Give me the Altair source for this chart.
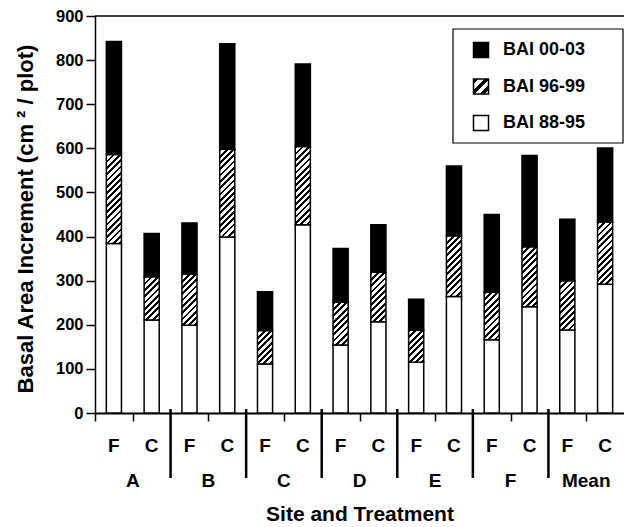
import json
import altair as alt
import pandas as pd

# ---------------- data ----------------
sites = ["A", "B", "C", "D", "E", "F", "Mean"]
treatments = ["F", "C"]
periods = ["BAI 00-03", "BAI 96-99", "BAI 88-95"]
bai_88_95 = [384, 211, 199, 399, 111, 427, 154, 207, 115, 264, 166, 241, 188, 292]
bai_96_99 = [202, 98, 116, 199, 76, 177, 97, 112, 73, 138, 108, 136, 112, 141]
bai_00_03 = [256, 98, 116, 239, 88, 187, 122, 108, 70, 158, 176, 207, 139, 168]
y_ticks = list(range(0, 1000, 100))

# ---------------- layout / style ----------------
FONT = "Liberation Sans"
W, H = 529, 397
YMAX = 900
NB = len(sites) * len(treatments)
BAND = 0.4
bar_px = W / NB * BAND
x_ticks = [0] + [2 * g + 1 for g in range(len(sites))]

rows = []
for i in range(NB):
    base = 0
    for period, vals in (("BAI 88-95", bai_88_95), ("BAI 96-99", bai_96_99), ("BAI 00-03", bai_00_03)):
        rows.append({"slot": i, "period": period, "low": base, "high": base + vals[i],
                     "key": f"{i}|{period}"})
        base += vals[i]
bars = pd.DataFrame(rows)


def hatch(w, h, period, black=0.45):
    """Linear gradient with hard stops that draws '/' stripes at 45 degrees."""
    L = w + h
    r = w / h
    k = (r + 1) / (r * r + 1)
    stops = []
    j = 0
    while j * period < L:
        a = j * period
        m = a + black * period
        e = a + period
        for s, c in ((a, "black"), (m, "black"), (m, "white"), (e, "white")):
            stops.append({"offset": round(min(s / L, 1.0), 5), "color": c})
        j += 1
    return {"gradient": "linear", "x1": 0, "y1": 0, "x2": round(k * r, 5), "y2": round(k, 5),
            "stops": stops}


conds = []
for r in bars.itertuples():
    if r.period == "BAI 96-99":
        conds.append({"test": f"datum.key === '{r.key}'",
                      "value": hatch(bar_px, (r.high - r.low) * H / YMAX, 6.3)})

legend_hatch_expr = json.dumps(hatch(15, 15, 10.5, 0.5)).replace('"', "'")

x_axis = alt.Axis(values=x_ticks, labels=False, tickSize=8, tickWidth=1.5,
                  tickColor="black", domainColor="black", domainWidth=2, grid=False,
                  title="Site and Treatment", titleFont=FONT, titleFontSize=21,
                  titleFontWeight="bold", titleColor="black", titlePadding=82)
x_scale = alt.Scale(domain=[0, NB], nice=False)

# legend frame (decoration behind the legend)
legend_box = alt.Chart(pd.DataFrame({"d": [0]})).mark_rect(
    fill="white", stroke="black", strokeWidth=1.2
).encode(x=alt.value(358), x2=alt.value(528), y=alt.value(13), y2=alt.value(127))

bar_layer = alt.Chart(bars).transform_calculate(
    x0=f"datum.slot + {(1 - BAND) / 2}",
    x1=f"datum.slot + {1 - (1 - BAND) / 2}",
).mark_bar(stroke="black", strokeWidth=1.5).encode(
    x=alt.X("x0:Q", scale=x_scale, axis=x_axis),
    x2="x1:Q",
    y=alt.Y("low:Q", scale=alt.Scale(domain=[0, YMAX], nice=False),
            axis=alt.Axis(values=y_ticks, grid=False, title="Basal Area Increment (cm ² / plot)",
                          titleFont=FONT, titleFontSize=22, titleFontWeight="bold",
                          titleColor="black", titleX=-63, titleY=202.5,
                          titleBaseline="alphabetic",
                          labelFont=FONT, labelFontSize=16.5, labelFontWeight="bold",
                          labelColor="black", labelPadding=3, tickColor="black",
                          tickSize=9, tickWidth=1.5, domainColor="black", domainWidth=1.5)),
    y2="high:Q",
    fill=alt.Fill(
        "period:N",
        scale=alt.Scale(domain=periods,
                        range=["black", alt.ExprRef(expr=legend_hatch_expr), "white"]),
        condition=conds,
        legend=alt.Legend(
            title=None, orient="none", legendX=377, legendY=25, padding=0,
            symbolType="square", symbolSize=225,
            symbolStrokeColor="black", symbolStrokeWidth=1.5, symbolOffset=0,
            labelOffset=13, labelFont=FONT, labelFontSize=18, labelFontWeight="bold",
            labelColor="black", rowPadding=14.5,
        ),
    ),
)

top_line = alt.Chart(pd.DataFrame({"d": [0]})).mark_rule(color="black", strokeWidth=1.5).encode(
    y=alt.value(0), x=alt.value(0), x2=alt.value(W)
)

sep_df = pd.DataFrame({"x": [2 * g for g in range(1, len(sites))]})
separators = alt.Chart(sep_df).mark_rule(color="black", strokeWidth=2.5).encode(
    x=alt.X("x:Q", scale=x_scale, axis=x_axis), y=alt.value(393), y2=alt.value(462)
)

treat_df = pd.DataFrame({"x": [i + 0.5 for i in range(NB)],
                         "t": [treatments[i % 2] for i in range(NB)]})
treat_text = alt.Chart(treat_df).mark_text(
    font=FONT, fontSize=19, fontWeight="bold", color="black", baseline="middle", align="center"
).encode(x=alt.X("x:Q", scale=x_scale, axis=x_axis), y=alt.value(430), text="t:N")

site_df = pd.DataFrame({"x": [2 * g + 1 for g in range(len(sites))], "s": sites})
site_text = alt.Chart(site_df).mark_text(
    font=FONT, fontSize=19, fontWeight="bold", color="black", baseline="middle", align="center"
).encode(x=alt.X("x:Q", scale=x_scale, axis=x_axis), y=alt.value(465), text="s:N")

chart = alt.layer(legend_box, bar_layer, top_line, separators, treat_text, site_text).properties(
    width=W, height=H,
    autosize=alt.AutoSizeParams(type="none"),
    padding={"left": 87, "top": 8, "right": 0, "bottom": 114},
).configure_view(stroke=None)

chart.save("out.html", embed_options={"renderer": "svg", "actions": False})
